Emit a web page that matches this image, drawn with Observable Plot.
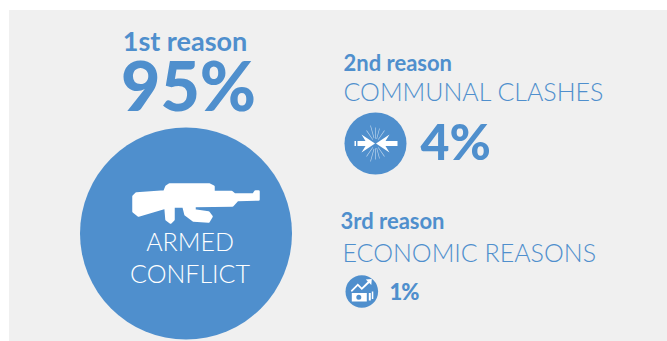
<!DOCTYPE html>
<html>
<head>
<meta charset="utf-8">
<script src="https://cdn.jsdelivr.net/npm/d3@7"></script>
<script src="https://cdn.jsdelivr.net/npm/@observablehq/plot@0.6"></script>
<style>
html, body { margin: 0; padding: 0; background: #fff; }
svg { display: block; }
.tight-share { letter-spacing: -1px; }
</style>
</head>
<body>
<div id="chart"></div>
<script>
const ranks = ["1st reason", "2nd reason", "3rd reason"];
const causes = ["ARMED\nCONFLICT", "COMMUNAL CLASHES", "ECONOMIC REASONS"];
const shares = [95, 4, 1];

const blue = "#4f8fcd";
const panelFill = "#f0f0f0";
const W = 667, H = 341;

// Infographic placement, in page pixels
const discX = [185.5, 375, 361.3];
const discY = [233, 143, 291];
const iconX = [196, 375, 361.3];
const iconY = [202, 143, 291];
const rankX = [184.5, 343, 340];
const rankY = [50, 70, 228];
const rankSize = [27, 22, 22];
const causeX = [189.5, 343, 342];
const causeY = [228, 100, 261];
const causeSize = [25, 25, 25];
const shareX = [188, 420, 389];
const shareY = [110, 159, 299];
const shareSize = [68, 50, 22];

const rows = shares.map((share, i) => ({
  share, rank: ranks[i], cause: causes[i],
  dx: discX[i], dy: discY[i], ix: iconX[i], iy: iconY[i],
  rx: rankX[i], ry: rankY[i], rs: rankSize[i],
  cx: causeX[i], cy: causeY[i], cs: causeSize[i],
  sx: shareX[i], sy: shareY[i], ss: shareSize[i]
}));

// Icons as custom dot symbols, drawn around the dot's centre
const poly = (ctx, pts) => {
  pts.forEach(([x, y], i) => i ? ctx.lineTo(x, y) : ctx.moveTo(x, y));
  ctx.closePath();
};

const rifle = { draw(ctx) {
  poly(ctx, [[-60,-9],[-32,-11],[-30,-16],[-27,-18],[13,-18],[17,-16],[17,-10.5],[35,-10.5],[38,-8],
    [57,-8],[59,-11],[62,-11],[62,-3],[41,-2.5],[36,3],[-2,3.5],[-2,8],[12,10],[15,14],[12,19],[-3,18],
    [-11,12],[-13,4],[-23,4],[-23,17],[-26,20],[-30,17],[-31,5],[-58,13],[-63,9],[-63,-6]]);
}};

const collision = { draw(ctx) {
  poly(ctx, [[-0.5,0],[-14,-9],[-10,-2.5],[-18,-2.5],[-18,2.5],[-10,2.5],[-14,9]]);
  poly(ctx, [[0.5,0],[14,-9],[10,-2.5],[22,-2.5],[22,2.5],[10,2.5],[14,9]]);
  poly(ctx, [[-21,-2.5],[-19.5,-2.5],[-19.5,2.5],[-21,2.5]]);
}};

// Thin shock lines around the point of impact
const shock = { draw(ctx) {
  for (const [x, y] of [[-5,-18],[4,-15],[-9,-13],[9,-13],[-5,18],[4,15],[-9,13],[9,13],[0,-16],[0,16]]) {
    const a = Math.atan2(y, x), n = 0.35;
    const px = -Math.sin(a) * n, py = Math.cos(a) * n;
    const k = 0.3;
    poly(ctx, [[x + px, y + py], [x * k + px, y * k + py], [x * k - px, y * k - py], [x - px, y - py]]);
  }
}};

const cashChart = { draw(ctx) {
  // Rising trend arrow
  poly(ctx, [[-11,-1],[-4,-8],[0,-4],[6,-10],[4,-12],[10,-12.5],[9.5,-6.5],[7.5,-8.5],[0,-1.5],[-4,-5.5],[-10,0.5]]);
  // Banknote with a round window
  ctx.moveTo(-10, 1.5); ctx.lineTo(5, 1.5); ctx.lineTo(5, 10); ctx.lineTo(-10, 10); ctx.closePath();
  ctx.moveTo(-0.5, 5.7); ctx.arc(-3, 5.7, 2.5, 0, Math.PI * 2, true); ctx.closePath();
  ctx.moveTo(7, 1.5); ctx.lineTo(9, 1.5); ctx.lineTo(9, 9); ctx.lineTo(7, 9); ctx.closePath();
  ctx.moveTo(10, 0); ctx.lineTo(11.5, 0); ctx.lineTo(11.5, 7.5); ctx.lineTo(10, 7.5); ctx.closePath();
}};

const icons = [rifle, collision, cashChart];
const faces = "Lato, 'Noto Sans', sans-serif";

const chart = Plot.plot({
  width: W, height: H,
  margin: 0,
  style: { background: "#fff", fontFamily: faces },
  x: { domain: [0, W], range: [0, W], axis: null },
  y: { domain: [0, H], range: [0, H], axis: null },
  r: { type: "linear", domain: [1, 4, 95], range: [16.3, 31, 106] },
  marks: [
    Plot.rect([{ x1: 9, x2: W, y1: 10, y2: H }], {
      x1: "x1", x2: "x2", y1: "y1", y2: "y2", fill: panelFill
    }),
    Plot.dot(rows, { x: "dx", y: "dy", r: "share", fill: blue, stroke: "none" }),
    Plot.dot(rows.slice(1, 2), {
      x: "ix", y: "iy", r: 1, symbol: () => shock,
      fill: "#fff", fillOpacity: 0.6, stroke: "none"
    }),
    ...rows.map((d, i) => Plot.dot([d], {
      x: "ix", y: "iy", r: 1, symbol: () => icons[i],
      fill: "#fff", stroke: i ? "none" : "#fff", strokeWidth: i ? 0 : 2.5, strokeLinejoin: "round"
    })),
    ...rows.map((d, i) => Plot.text([d], {
      x: "rx", y: "ry", text: "rank", fontSize: d.rs, fontWeight: 700, fill: blue,
      textAnchor: i ? "start" : "middle", lineAnchor: "bottom"
    })),
    ...rows.map((d, i) => Plot.text([d], {
      x: "sx", y: "sy", text: r => `${r.share}%`, fontSize: d.ss, fontWeight: 900, fill: blue,
      textAnchor: i ? "start" : "middle", lineAnchor: "bottom",
      className: i === 2 ? "tight-share" : undefined
    })),
    ...rows.map((d, i) => Plot.text([d], {
      x: "cx", y: "cy", text: "cause", fontSize: d.cs, fontWeight: 300,
      fill: i ? blue : "#fff", lineHeight: 1.28,
      textAnchor: i ? "start" : "middle", lineAnchor: i ? "bottom" : "top"
    }))
  ]
});

document.getElementById("chart").append(chart);
</script>
</body>
</html>
